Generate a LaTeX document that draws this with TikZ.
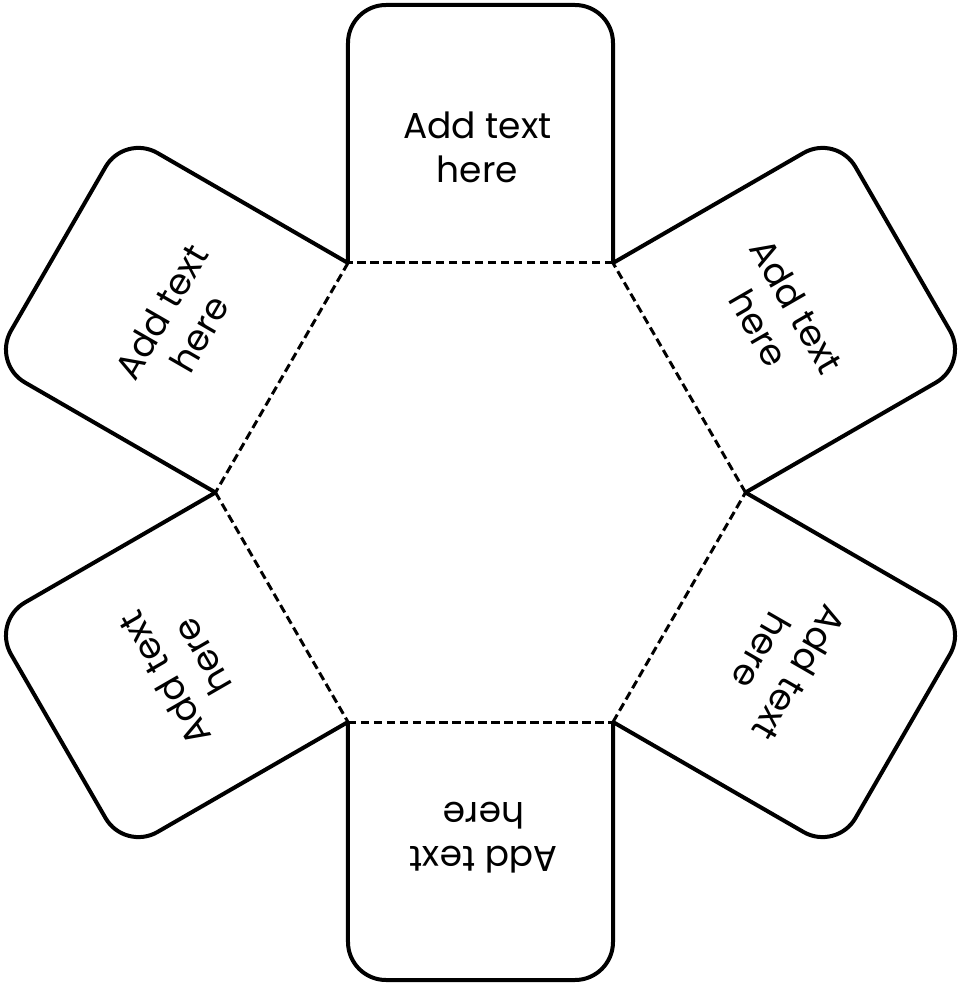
\documentclass[tikz,border=0pt]{standalone}
\usepackage{fontspec}
\setmainfont{Poppins}
\begin{document}
\begin{tikzpicture}[x=1pt,y=1pt,
  flapline/.style={line width=4pt, line join=round, rounded corners=38pt},
  foldline/.style={line width=3pt, dash pattern=on 8.5pt off 4.5pt},
  flaptext/.style={align=center, font=\fontsize{36}{44}\selectfont, transform shape, inner sep=0pt}]
\useasboundingbox (-480.5,-497.5) rectangle (480.5,492.5);
\foreach \i in {0,...,5} \coordinate (v\i) at (\i*60:265);
\foreach \k/\a in {1/0,2/60,3/-60,4/120,5/-120,6/180} {
  \begin{scope}[rotate=\a]
    \draw[flapline] (-132.5,229.5) -- (-132.5,487.5) -- (132.5,487.5) -- (132.5,229.5);
    \node[flaptext] (t\k) at (-3,345) {Add text\\here};
  \end{scope}
}
\foreach \p/\q in {v0/v1,v1/v2,v2/v3,v3/v4,v4/v5,v5/v0}
  \draw[foldline] (\p) -- (\q);
\end{tikzpicture}
\end{document}
